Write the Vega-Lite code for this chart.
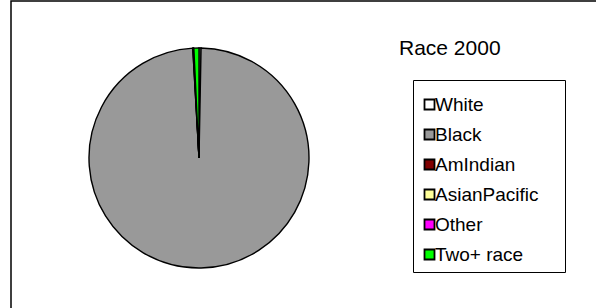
{
  "$schema": "https://vega.github.io/schema/vega-lite/v6.json",
  "width": 600,
  "height": 320,
  "autosize": "none",
  "padding": {"left": 11, "top": 1, "right": 0, "bottom": 0},
  "background": "#ffffff",
  "view": {"stroke": "#000000", "strokeWidth": 1.5, "fill": "#ffffff"},
  "config": {
    "font": "Liberation Sans"
  },
  "title": {
    "text": "Race 2000",
    "anchor": "start",
    "frame": "group",
    "orient": "top",
    "offset": 0,
    "baseline": "alphabetic",
    "dx": 388,
    "dy": 75,
    "fontSize": 21,
    "fontWeight": "normal",
    "font": "Liberation Sans",
    "color": "#000000"
  },
  "data": {
    "values": [
      {"rank": 1, "race": "White", "pct": 0.3},
      {"rank": 2, "race": "Black", "pct": 98.8},
      {"rank": 3, "race": "AmIndian", "pct": 0.05},
      {"rank": 4, "race": "AsianPacific", "pct": 0.05},
      {"rank": 5, "race": "Other", "pct": 0.05},
      {"rank": 6, "race": "Two+ race", "pct": 0.75}
    ]
  },
  "mark": {
    "type": "arc",
    "x": 188,
    "y": 157,
    "outerRadius": 110,
    "stroke": "#000000",
    "strokeWidth": 1.4
  },
  "encoding": {
    "theta": {"field": "pct", "type": "quantitative", "stack": true},
    "order": {"field": "rank", "type": "quantitative"},
    "color": {
      "field": "race",
      "type": "nominal",
      "scale": {
        "domain": ["White", "Black", "AmIndian", "AsianPacific", "Other", "Two+ race"],
        "range": ["#FFFFFF", "#999999", "#800000", "#FFFF99", "#FF00FF", "#00FF00"]
      },
      "legend": {
        "orient": "none",
        "legendX": 402,
        "legendY": 79,
        "title": "_______________________________",
        "titleFontSize": 8,
        "titlePadding": 0,
        "titleOpacity": 0,
        "titleLimit": 1000,
        "strokeColor": "#000000",
        "fillColor": "#ffffff",
        "padding": 7,
        "symbolType": "square",
        "symbolSize": 100,
        "symbolStrokeColor": "#000000",
        "symbolStrokeWidth": 1.8,
        "symbolOpacity": 1,
        "labelFontSize": 19,
        "labelFont": "Liberation Sans",
        "labelColor": "#000000",
        "labelOffset": -4,
        "labelLimit": 300,
        "rowPadding": 10
      }
    }
  }
}
